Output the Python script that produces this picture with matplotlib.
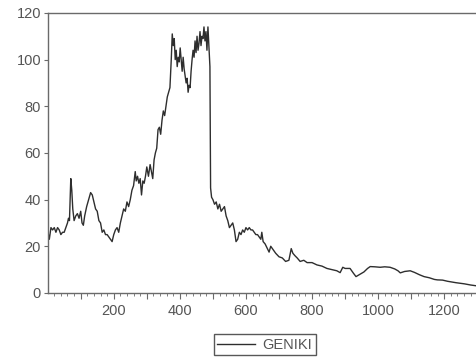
import matplotlib
matplotlib.use("Agg")
import matplotlib.pyplot as plt
from matplotlib.ticker import MultipleLocator, FixedLocator, FuncFormatter

# ── Series ───────────────────────────────────────────────────────────
obs = [
    1, 5, 10, 15, 20, 25, 30, 35, 40, 45, 50, 55, 60, 63, 66, 70, 73, 76, 80,
    85, 90, 95, 100, 104, 108, 112, 118, 124, 130, 135, 140, 145, 150, 155,
    160, 165, 170, 175, 180, 185, 190, 195, 200, 205, 210, 215, 220, 225, 230,
    235, 240, 245, 250, 255, 260, 265, 268, 272, 276, 280, 284, 288, 292, 296,
    300, 305, 310, 314, 318, 322, 326, 330, 334, 338, 342, 346, 350, 354, 358,
    362, 366, 370, 374, 377, 380, 383, 386, 389, 392, 395, 398, 401, 404, 407,
    410, 413, 416, 419, 422, 425, 428, 431, 434, 437, 440, 443, 446, 449, 452,
    455, 458, 461, 464, 467, 470, 473, 476, 479, 482, 485, 488, 491, 493, 496,
    500, 505, 510, 515, 520, 525, 530, 535, 540, 545, 550, 555, 560, 565, 570,
    575, 580, 585, 590, 595, 600, 605, 610, 615, 620, 625, 630, 635, 640, 645,
    648, 652, 658, 665, 670, 675, 680, 690, 700, 710, 720, 730, 737, 742, 748,
    755, 764, 775, 785, 800, 815, 830, 845, 860, 875, 885, 893, 900, 915, 925,
    933, 945, 957, 968, 976, 990, 1006, 1020, 1036, 1050, 1060, 1067, 1080,
    1097, 1110, 1125, 1139, 1155, 1170, 1179, 1195, 1210, 1218, 1235, 1250,
    1261, 1280, 1300,
]
geniki = [
    26, 23, 28, 27, 28, 26, 28, 27, 25, 26, 26, 28, 30, 32, 31, 49, 44, 36, 31,
    33, 34, 32, 35, 30, 29, 33, 37, 40, 43, 42, 39, 36, 35, 31,
    30, 26, 27, 25, 25, 24, 23, 22, 25, 27, 28, 26, 30, 33, 36,
    35, 39, 37, 40, 44, 46, 52, 48, 50, 47, 49, 42, 48, 47, 50,
    54, 50, 55, 52, 49, 57, 60, 62, 70, 71, 68, 74, 78, 76, 80,
    84, 86, 88, 100, 111, 106, 109, 100, 104, 97, 101, 99, 105, 100, 95,
    101, 96, 93, 90, 92, 86, 89, 88, 95, 100, 104, 101, 108, 103, 110,
    104, 107, 112, 106, 110, 109, 114, 108, 112, 104, 114, 105, 97, 45, 41,
    40, 38, 39, 36, 38, 35, 36, 37, 33, 31, 28, 29, 30, 27, 22,
    23, 26, 25, 27, 26, 28, 27, 28, 27, 27, 26, 25, 25, 24, 23,
    26, 22, 21, 19, 17.5, 20, 19, 17, 15.5, 15, 13.5, 14, 19, 17, 16,
    15, 13.5, 14, 13, 13, 12, 11.5, 10.5, 10, 9.5, 8.7, 11, 10.5, 10.5, 8.5,
    7, 8, 9, 10.5, 11.3, 11.2, 11, 11.2, 11, 10.3, 9.5, 8.6, 9.2,
    9.5, 8.8, 7.8, 7, 6.5, 5.8, 5.6, 5.5, 5, 4.8, 4.4, 4.1,
    3.9, 3.4, 3,
]
series_name = "GENIKI"
y_ticks = [0, 20, 40, 60, 80, 100, 120]
x_ticks = [100, 200, 300, 400, 500, 600, 700, 800, 900, 1000, 1100, 1200]

_INK = "#2e2e2e"
_AXIS = "#6a6a6a"
_TEXT = "#555555"

plt.rcParams["font.family"] = ["Liberation Sans", "DejaVu Sans"]

fig = plt.figure(figsize=(4.77, 3.59), dpi=100, facecolor="white")
ax = fig.add_axes([0.1006, 0.184, 0.9, 0.78])

ax.plot(obs, geniki, color=_INK, linewidth=1.0, label=series_name)

ax.set_xlim(1, 1300)
ax.set_ylim(0, 120)
ax.set_yticks(y_ticks)
ax.xaxis.set_major_locator(FixedLocator(x_ticks))
# only every second hundred carries a label
ax.xaxis.set_major_formatter(
    FuncFormatter(lambda v, _: f"{v:.0f}" if int(v) % 200 == 0 else ""))
ax.xaxis.set_minor_locator(MultipleLocator(20))

for side in ("left", "bottom", "top"):
    ax.spines[side].set_color(_AXIS)
    ax.spines[side].set_linewidth(1.0)
ax.spines["right"].set_visible(False)

ax.tick_params(axis="y", direction="out", length=3, color=_AXIS,
               labelcolor=_TEXT, labelsize=10.5, pad=2)
ax.tick_params(axis="x", which="major", direction="out", length=4,
               color=_AXIS, labelcolor=_TEXT, labelsize=10.5, pad=4)
ax.tick_params(axis="x", which="minor", direction="out", length=2,
               color=_AXIS)

leg = fig.legend(loc="center", bbox_to_anchor=(0.555, 0.04), frameon=True,
                 fancybox=False, fontsize=10.5, handlelength=2.6,
                 borderpad=0.25, handletextpad=0.5)
leg.get_frame().set_edgecolor(_INK)
leg.get_frame().set_linewidth(1.0)
for t in leg.get_texts():
    t.set_color(_TEXT)

fig.savefig("out.png", dpi=100, facecolor="white")
